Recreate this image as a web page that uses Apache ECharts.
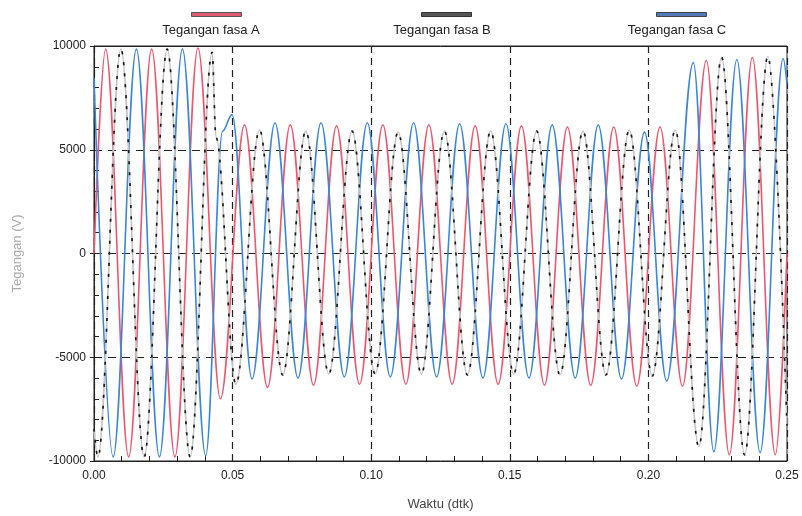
<!DOCTYPE html>
<html>
<head>
<meta charset="utf-8">
<script src="https://cdn.jsdelivr.net/npm/echarts@6/dist/echarts.min.js"></script>
<style>
  html, body { margin: 0; padding: 0; background: #fff; }
  #chart { width: 802px; height: 516px; }
</style>
</head>
<body>
<div id="chart"></div>
<script>
// extrema of each phase: time (ms) and voltage (V)
var tA = [0, 4.2, 12.5, 20.8, 29.2, 37.5, 45.6, 54.3, 62.6, 70.8, 79.2, 87.5, 95.8, 104.2, 112.5, 120.8, 129.2, 137.5, 145.8, 154.2, 162.5, 170.8, 179.2, 187.5, 195.8, 204.2, 212.3, 220.9, 229.2, 237.5, 245.8, 250];
var vA = [0, 9850, -9800, 9850, -9800, 9900, -7000, 6200, -6450, 6200, -6350, 6150, -6300, 6200, -6300, 6200, -6300, 6150, -6300, 6150, -6350, 6100, -6350, 6100, -6400, 6100, -6400, 9300, -9700, 9450, -9700, 0];

var tB = [0, 1.4, 9.7, 18.1, 26.4, 34.7, 42.6, 44.0, 51.2, 59.7, 68.1, 76.4, 84.7, 93.1, 101.4, 109.7, 118.1, 126.4, 134.7, 143.1, 151.4, 159.7, 168.1, 176.4, 184.7, 193.1, 201.4, 209.7, 218.2, 226.4, 234.7, 243.1, 250];
var vB = [-8450, -9800, 9850, -9800, 9850, -9800, 9700, 5600, -6300, 5950, -5850, 5900, -5800, 5900, -5800, 5850, -5800, 5900, -5850, 5900, -5800, 5900, -5850, 5900, -5850, 5950, -5900, 5950, -9300, 9450, -9700, 9500, -8300];

var tC = [0, 6.9, 15.3, 23.6, 31.9, 40.3, 46.4, 49.8, 57.0, 65.3, 73.6, 81.9, 90.3, 98.6, 106.9, 115.3, 123.6, 131.9, 140.3, 148.6, 156.9, 165.3, 173.6, 181.9, 190.3, 198.6, 206.6, 216.2, 223.6, 231.9, 240.3, 248.6, 250];
var vC = [8450, -9800, 9850, -9800, 9850, -9750, 5900, 6700, -6050, 6300, -6000, 6300, -5950, 6300, -5950, 6300, -5950, 6250, -6000, 6250, -6000, 6200, -6000, 6200, -6050, 5850, -6150, 9200, -9550, 9350, -9600, 9400, 8150];

var names = ['Tegangan fasa A', 'Tegangan fasa B', 'Tegangan fasa C'];
var xTicks = [0, 0.05, 0.10, 0.15, 0.20, 0.25];
var yTicks = [-10000, -5000, 0, 5000, 10000];

function pairs(t, v) {
    return t.map(function (x, i) { return [x / 1000, v[i]]; });
}

var font = 'Liberation Sans Narrow, Liberation Sans, Arial, sans-serif';
var ink = '#222';

var myChart = echarts.init(document.getElementById('chart'));
var option = {
    animation: false,
    grid: {
        left: 94, right: 15, top: 46, bottom: 53,
        show: true, borderColor: ink, borderWidth: 1
    },
    legend: [
        { data: [names[0]], left: 186, top: 7, itemStyle: { color: '#e05a70', borderColor: '#555', borderWidth: 1 } },
        { data: [names[1]], left: 416, top: 7, itemStyle: { color: '#555', borderColor: '#333', borderWidth: 1 } },
        { data: [names[2]], left: 651, top: 7, itemStyle: { color: '#5477b8', borderColor: '#444', borderWidth: 1 } }
    ].map(function (l) {
        l.icon = 'rect';
        l.itemWidth = 50;
        l.itemHeight = 4;
        l.selectedMode = false;
        l.formatter = function () { return ''; };
        return l;
    }),
    graphic: names.map(function (n, i) {
        return {
            type: 'text',
            x: [211, 442, 677][i],
            y: 24,
            style: { text: n, font: '13px ' + font, fill: ink, textAlign: 'center' }
        };
    }),
    xAxis: [
        {
            type: 'value',
            min: xTicks[0], max: xTicks[xTicks.length - 1], interval: 0.05,
            name: 'Waktu (dtk)', nameLocation: 'middle', nameGap: 37,
            nameTextStyle: { color: '#444', fontSize: 13, fontFamily: font },
            axisLine: { onZero: false, lineStyle: { color: ink } },
            axisTick: { inside: true, length: 6, lineStyle: { color: ink } },
            minorTick: { show: true, splitNumber: 5, length: 5, lineStyle: { color: ink } },
            axisLabel: { color: ink, fontSize: 12, fontFamily: font, margin: 9,
                formatter: function (v) { return v.toFixed(2); } },
            splitLine: { show: true, lineStyle: { color: ink, type: [7, 5], width: 1.2 } }
        },
        {
            type: 'value', position: 'top',
            min: xTicks[0], max: xTicks[xTicks.length - 1], interval: 0.05,
            axisLine: { onZero: false, lineStyle: { color: ink } },
            axisTick: { inside: true, length: 6, lineStyle: { color: ink } },
            axisLabel: { show: false },
            splitLine: { show: false }
        }
    ],
    yAxis: [
        {
            type: 'value',
            min: yTicks[0], max: yTicks[yTicks.length - 1], interval: 5000,
            name: 'Tegangan (V)', nameLocation: 'middle', nameGap: 70,
            nameTextStyle: { color: '#aaa', fontSize: 13, fontFamily: font },
            axisLine: { onZero: false, lineStyle: { color: ink } },
            axisTick: { inside: true, length: 6, lineStyle: { color: ink } },
            minorTick: { show: true, splitNumber: 5, length: 5, lineStyle: { color: ink } },
            axisLabel: { color: ink, fontSize: 12, fontFamily: font, margin: 8,
                formatter: function (v) { return String(v); } },
            splitLine: { show: true, lineStyle: { color: ink, type: [8, 6], width: 1.2 } }
        },
        {
            type: 'value', position: 'left',
            min: yTicks[0], max: yTicks[yTicks.length - 1], interval: 5000,
            axisLine: { show: false, onZero: false },
            axisTick: { show: true, inside: false, length: 4, lineStyle: { color: ink } },
            axisLabel: { show: false },
            splitLine: { show: false }
        }
    ],
    series: [
        {
            name: names[0], type: 'line', data: pairs(tA, vA),
            smooth: 0.36, smoothMonotone: 'x', showSymbol: false,
            color: '#f0566e', lineStyle: { width: 1.6 }
        },
        {
            name: names[2], type: 'line', data: pairs(tC, vC),
            smooth: 0.36, smoothMonotone: 'x', showSymbol: false,
            color: '#3b87d9', lineStyle: { width: 1.6 }
        },
        {
            name: 'fasa B latar', type: 'line', data: pairs(tB, vB),
            smooth: 0.36, smoothMonotone: 'x', showSymbol: false, silent: true,
            color: '#c4c4c4', lineStyle: { width: 1.6 }
        },
        {
            name: names[1], type: 'line', data: pairs(tB, vB),
            smooth: 0.36, smoothMonotone: 'x', showSymbol: false,
            color: '#1a1a1a', lineStyle: { width: 1.7, type: [3, 8] }
        }
    ]
};
myChart.setOption(option);
</script>
</body>
</html>
